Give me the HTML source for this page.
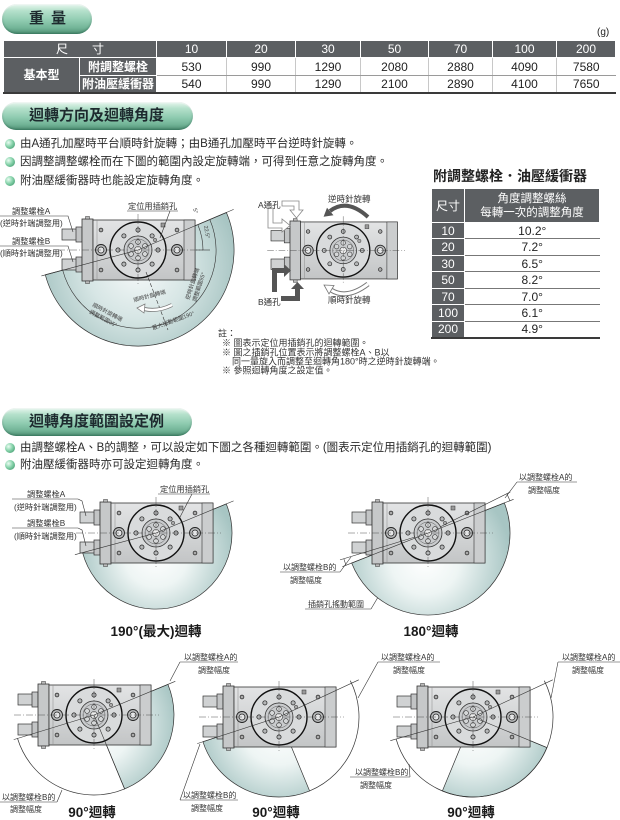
<!DOCTYPE html>
<html><head><meta charset="utf-8">
<style>
body{margin:0;width:620px;height:820px;position:relative;overflow:hidden;background:#fff;font-family:"Liberation Sans","Noto Sans CJK TC",sans-serif;color:#222;}
.pill{position:absolute;border-radius:15px;background:linear-gradient(180deg,#e8f7ef 0%,#b6e1cc 22%,#8fcbb0 55%,#72b497 80%,#4f9074 100%);box-shadow:inset 0 -1px 2px rgba(0,60,40,.35),inset 0 1px 1px rgba(255,255,255,.8);}
.pill span{position:absolute;font-weight:bold;font-size:15px;color:#1d2a2e;white-space:nowrap;line-height:18px;}
.bl{position:absolute;left:20px;font-size:11.5px;line-height:14px;white-space:nowrap;color:#2a2a2a;}
.dot{position:absolute;left:5px;width:10px;height:10px;border-radius:50%;background:radial-gradient(circle at 35% 35%,#eafcf2 0%,#86d2aa 45%,#2f8a5e 100%);}
table{position:absolute;border-collapse:collapse;table-layout:fixed;font-size:12px;}
table th{background:#5c5f62;color:#fff;font-weight:normal;border:1px solid #fff;padding:0;line-height:1;text-align:center;}
.wt td{border-left:1px solid #c8c8c8;border-bottom:1px solid #9a9a9a;text-align:center;padding:0;line-height:1;color:#222;}
.wt{border-bottom:2px solid #3a3a3a;}
.at td{border-bottom:1px solid #777;text-align:center;padding:0;line-height:1;color:#222;}
.at{border-bottom:2px solid #3a3a3a;}
</style></head><body>

<div class="pill" style="left:2px;top:4px;width:90px;height:30px;"><span style="left:27px;top:6px;letter-spacing:7px;">重量</span></div>
<div style="position:absolute;left:597px;top:27px;font-size:10px;">(g)</div>

<table class="wt" style="left:3px;top:40px;width:612px;">
<colgroup><col style="width:76px"><col style="width:77px"><col style="width:70px"><col style="width:69px"><col style="width:65px"><col style="width:68px"><col style="width:64px"><col style="width:64px"><col style="width:59px"></colgroup>
<tr style="height:17px"><th colspan="2">尺&emsp;&emsp;寸</th><th>10</th><th>20</th><th>30</th><th>50</th><th>70</th><th>100</th><th>200</th></tr>
<tr style="height:18px"><th rowspan="2" style="font-weight:bold">基本型</th><th style="font-weight:bold">附調整螺栓</th><td>530</td><td>990</td><td>1290</td><td>2080</td><td>2880</td><td>4090</td><td>7580</td></tr>
<tr style="height:17px"><th style="font-weight:bold">附油壓緩衝器</th><td>540</td><td>990</td><td>1290</td><td>2100</td><td>2890</td><td>4100</td><td>7650</td></tr>
</table>

<div class="pill" style="left:2px;top:102px;width:191px;height:28px;"><span style="left:27px;top:5px;">迴轉方向及迴轉角度</span></div>
<div class="dot" style="top:139px"></div><div class="bl" style="top:137px">由A通孔加壓時平台順時針旋轉；由B通孔加壓時平台逆時針旋轉。</div>
<div class="dot" style="top:157px"></div><div class="bl" style="top:155px">因調整調整螺栓而在下圖的範圍內設定旋轉端，可得到任意之旋轉角度。</div>
<div class="dot" style="top:176px"></div><div class="bl" style="top:174px">附油壓緩衝器時也能設定旋轉角度。</div>

<div style="position:absolute;left:433px;top:168px;font-size:14px;font-weight:bold;line-height:17px;white-space:nowrap;color:#222;">附調整螺栓．油壓緩衝器</div>
<table class="at" style="left:431px;top:188px;width:168px;">
<colgroup><col style="width:33px"><col style="width:135px"></colgroup>
<tr style="height:34px"><th>尺寸</th><th style="font-size:11.5px;line-height:14px">角度調整螺絲<br>每轉一次的調整角度</th></tr>
<tr style="height:16px"><th>10</th><td>10.2°</td></tr>
<tr style="height:17px"><th>20</th><td>7.2°</td></tr>
<tr style="height:16px"><th>30</th><td>6.5°</td></tr>
<tr style="height:17px"><th>50</th><td>8.2°</td></tr>
<tr style="height:16px"><th>70</th><td>7.0°</td></tr>
<tr style="height:17px"><th>100</th><td>6.1°</td></tr>
<tr style="height:16px"><th>200</th><td>4.9°</td></tr>
</table>

<div class="pill" style="left:2px;top:408px;width:190px;height:28px;"><span style="left:27px;top:5px;">迴轉角度範圍設定例</span></div>
<div class="dot" style="top:443px"></div><div class="bl" style="top:441px">由調整螺栓A、B的調整，可以設定如下圖之各種迴轉範圍。(圖表示定位用插銷孔的迴轉範圍)</div>
<div class="dot" style="top:460px"></div><div class="bl" style="top:458px">附油壓緩衝器時亦可設定迴轉角度。</div>

<svg width="620" height="820" viewBox="0 0 620 820" style="position:absolute;left:0;top:0;" font-family="Liberation Sans, Noto Sans CJK TC, sans-serif">
<defs>
<linearGradient id="bodyg" x1="0" y1="0" x2="0" y2="1"><stop offset="0" stop-color="#e3e4e5"/><stop offset=".5" stop-color="#d3d5d6"/><stop offset="1" stop-color="#c3c5c6"/></linearGradient>
<radialGradient id="g1" gradientUnits="userSpaceOnUse" cx="138" cy="268" r="100"><stop offset="0" stop-color="#f6f9f9"/><stop offset=".5" stop-color="#d7e6e5"/><stop offset="1" stop-color="#a8c5c3"/></radialGradient>
<radialGradient id="g3" gradientUnits="userSpaceOnUse" cx="156" cy="555" r="80"><stop offset="0" stop-color="#fff"/><stop offset=".4" stop-color="#eef5f4"/><stop offset="1" stop-color="#a7c5c3"/></radialGradient>
<radialGradient id="g4" gradientUnits="userSpaceOnUse" cx="425" cy="560" r="86"><stop offset="0" stop-color="#fff"/><stop offset=".4" stop-color="#eef5f4"/><stop offset="1" stop-color="#a7c5c3"/></radialGradient>
<radialGradient id="g5" gradientUnits="userSpaceOnUse" cx="94" cy="725" r="84"><stop offset="0" stop-color="#fff"/><stop offset=".45" stop-color="#eef5f4"/><stop offset="1" stop-color="#a7c5c3"/></radialGradient>
<radialGradient id="g6" gradientUnits="userSpaceOnUse" cx="279" cy="727" r="84"><stop offset="0" stop-color="#fff"/><stop offset=".45" stop-color="#eef5f4"/><stop offset="1" stop-color="#a7c5c3"/></radialGradient>
<radialGradient id="g7" gradientUnits="userSpaceOnUse" cx="473" cy="727" r="84"><stop offset="0" stop-color="#fff"/><stop offset=".45" stop-color="#eef5f4"/><stop offset="1" stop-color="#a7c5c3"/></radialGradient>
<g id="act">
<rect x="-20" y="10" width="15" height="11" fill="#d0d2d3" stroke="#333" stroke-width=".7"/>
<rect x="-6" y="8" width="6" height="15" fill="#c2c4c5" stroke="#333" stroke-width=".7"/>
<rect x="-20" y="40" width="15" height="11" fill="#d0d2d3" stroke="#333" stroke-width=".7"/>
<rect x="-6" y="38" width="6" height="15" fill="#c2c4c5" stroke="#333" stroke-width=".7"/>
<rect x="0" y="0" width="11" height="62" fill="#c6c8c9" stroke="#333" stroke-width=".8"/>
<rect x="3.5" y="-2.5" width="4" height="2.5" fill="#bbb" stroke="#333" stroke-width=".5"/>
<rect x="3.5" y="62" width="4" height="2.5" fill="#bbb" stroke="#333" stroke-width=".5"/>
<rect x="11" y="1" width="102" height="60" fill="url(#bodyg)" stroke="#333" stroke-width=".8"/>
<line x1="15" y1="1" x2="15" y2="61" stroke="#888" stroke-width=".5"/>
<rect x="102" y="1" width="11" height="60" fill="#cbcdce" stroke="#333" stroke-width=".6"/>
<circle cx="19" cy="31" r="5.5" fill="#b9bbbc" stroke="#222" stroke-width=".9"/>
<circle cx="19" cy="31" r="3" fill="#e5e6e7" stroke="#222" stroke-width=".7"/>
<circle cx="95" cy="31" r="5.5" fill="#b9bbbc" stroke="#222" stroke-width=".9"/>
<circle cx="95" cy="31" r="3" fill="#e5e6e7" stroke="#222" stroke-width=".7"/>
<circle cx="19" cy="11" r="1.9" fill="#aaa" stroke="#222" stroke-width=".7"/>
<circle cx="19" cy="51" r="1.9" fill="#aaa" stroke="#222" stroke-width=".7"/>
<circle cx="95" cy="11" r="1.9" fill="#aaa" stroke="#222" stroke-width=".7"/>
<circle cx="95" cy="51" r="1.9" fill="#aaa" stroke="#222" stroke-width=".7"/>
<rect x="79" y="4" width="4" height="4" fill="#999" stroke="#333" stroke-width=".5"/>
<circle cx="56" cy="31" r="28" fill="#d9dbdc" stroke="#111" stroke-width="1.4"/>
<g fill="#b5b7b8" stroke="#222" stroke-width=".7">
<circle cx="76" cy="31" r="2.1"/><circle cx="70.1" cy="45.1" r="2.1"/><circle cx="56" cy="51" r="2.1"/><circle cx="41.9" cy="45.1" r="2.1"/>
<circle cx="36" cy="31" r="2.1"/><circle cx="41.9" cy="16.9" r="2.1"/><circle cx="56" cy="11" r="2.1"/><circle cx="70.1" cy="16.9" r="2.1"/>
</g>
<circle cx="56" cy="31" r="14" fill="#c9cbcd" stroke="#333" stroke-width=".8"/>
<circle cx="56" cy="31" r="11" fill="none" stroke="#555" stroke-width=".5"/>
<g fill="#d5d7d8" stroke="#333" stroke-width=".6">
<circle cx="62.9" cy="35" r="2.4"/><circle cx="56" cy="39" r="2.4"/><circle cx="49.1" cy="35" r="2.4"/><circle cx="49.1" cy="27" r="2.4"/><circle cx="56" cy="23" r="2.4"/><circle cx="62.9" cy="27" r="2.4"/>
</g>
<circle cx="56" cy="31" r="3.5" fill="#eee" stroke="#333" stroke-width=".6"/>
<circle cx="73" cy="21" r="1.8" fill="#aaa" stroke="#333" stroke-width=".5"/>
<line x1="-24" y1="31" x2="121" y2="31" stroke="#444" stroke-width=".45" stroke-dasharray="7 2 1 2"/>
<line x1="56" y1="-5" x2="56" y2="67" stroke="#444" stroke-width=".45" stroke-dasharray="7 2 1 2"/>
</g>
</defs>

<!-- ===== D1 ===== -->
<path d="M138,250 L226.4,212.5 A96,96 0 1 1 45.3,274.8 Z" fill="url(#g1)" stroke="#333" stroke-width=".7"/>
<path d="M209.8,219.5 A78,78 0 1 1 62.7,270.2" fill="none" stroke="#333" stroke-width=".6"/>
<use href="#act" x="82" y="219"/>
<g stroke="#333" stroke-width=".6" fill="none">
<line x1="138" y1="250" x2="233.7" y2="209.4"/>
<line x1="138" y1="250" x2="41.4" y2="275.9"/>
<line x1="196" y1="250" x2="210" y2="250"/>
<path d="M203,250 A65,65 0 0 0 198,225.1"/>
<line x1="146" y1="272" x2="168" y2="330" stroke-dasharray="4 2"/>
<polyline points="62,216 68,216 73,232"/>
<polyline points="62,246 68,246 73,262"/>
<line x1="0" y1="216" x2="62" y2="216"/>
<line x1="0" y1="246" x2="62" y2="246"/>
<line x1="127" y1="211" x2="178" y2="211"/>
<line x1="170" y1="211" x2="160" y2="238"/>
</g>
<g font-size="8.2" fill="#333">
<text x="12" y="214">調整螺栓A</text>
<text x="0" y="226">(逆時針端調整用)</text>
<text x="12" y="244">調整螺栓B</text>
<text x="0" y="256">(順時針端調整用)</text>
<text x="128" y="209">定位用插銷孔</text>
</g>
<g font-size="5.5" fill="#444">
<text transform="translate(204,226) rotate(80)">22.5°</text>
<text transform="translate(193,209) rotate(70)">5°</text>
<text transform="translate(134,302) rotate(-15)">順時針旋轉端</text>
<text transform="translate(92,306) rotate(28)">順時針旋轉端</text>
<text transform="translate(89,313) rotate(28)">調整範圍95°</text>
<text transform="translate(189,300) rotate(-72)">逆時針旋轉端</text>
<text transform="translate(196,302) rotate(-72)">調整範圍95°</text>
<text transform="translate(153,330) rotate(-20)">最大搖動範圍190°</text>
</g>
<path d="M172,305 Q158,312 144,309" fill="none" stroke="#777" stroke-width="4"/>
<path d="M172,305 Q158,312 144,309" fill="none" stroke="#fff" stroke-width="2.4"/>
<polygon points="137,308 145,304 144,313" fill="#fff" stroke="#777" stroke-width=".7"/>

<!-- ===== D2 ===== -->
<g transform="translate(290,221) scale(0.95)"><use href="#act"/></g>
<polygon points="268,208 273,208 273,223 282,223 282,219 290,225.5 282,232 282,228 268,228" fill="#fff" stroke="#888" stroke-width=".8"/>
<polygon points="282,201 299,201 299,210 303,210 296.5,218 290,210 294,210 294,206 282,206" fill="#fff" stroke="#888" stroke-width=".8"/>
<polygon points="272,292 272,268 284,268 284,264 291,270.5 284,277 284,273 277,273 277,292" fill="#555"/>
<polygon points="281,296 295,296 295,289 291,289 297.5,282 304,289 300,289 300,301 281,301" fill="#555"/>
<path d="M368,217 Q347,198 330,211" fill="none" stroke="#555" stroke-width="4"/>
<polygon points="323.6,216.8 333.5,215.2 327,207.8" fill="#555"/>
<path d="M368,284 Q347,300 331,290" fill="none" stroke="#777" stroke-width="5"/>
<path d="M368,284 Q347,300 331,290" fill="none" stroke="#fff" stroke-width="3"/>
<polygon points="324,285 334,285.5 329,294" fill="#fff" stroke="#777" stroke-width=".8"/>
<g font-size="8.5" fill="#333">
<text x="258" y="208">A通孔</text>
<text x="258" y="305">B通孔</text>
<text x="328" y="202">逆時針旋轉</text>
<text x="328" y="303">順時針旋轉</text>
</g>

<!-- notes -->
<g font-size="9" fill="#333">
<text x="218" y="336.5">註：</text>
<text x="222" y="346">※ 圖表示定位用插銷孔的迴轉範圍。</text>
<text x="222" y="355.5">※ 圖之插銷孔位置表示將調整螺栓A、B以</text>
<text x="232" y="364.5">同一量旋入而調整至迴轉角180°時之逆時針旋轉端。</text>
<text x="222" y="373.5">※ 參照迴轉角度之設定值。</text>
</g>

<!-- ===== D3 190 ===== -->
<path d="M156,533 L226.2,503.9 A76,76 0 1 1 82.6,552.7 Z" fill="url(#g3)" stroke="#333" stroke-width=".7"/>
<use href="#act" x="100" y="502"/>
<g stroke="#333" stroke-width=".6" fill="none">
<line x1="156" y1="533" x2="233.6" y2="500.9"/>
<line x1="156" y1="533" x2="74.9" y2="554.7"/>
<line x1="12" y1="499" x2="78" y2="499"/>
<polyline points="78,499 82,501 86,516"/>
<line x1="12" y1="528" x2="78" y2="528"/>
<polyline points="78,528 82,530 86,546"/>
<line x1="158" y1="494" x2="210" y2="494"/>
<line x1="192" y1="494" x2="179" y2="519"/>
</g>
<g font-size="8.2" fill="#333">
<text x="27" y="497">調整螺栓A</text>
<text x="14" y="510">(逆時針端調整用)</text>
<text x="27" y="526">調整螺栓B</text>
<text x="14" y="539">(順時針端調整用)</text>
<text x="160" y="492">定位用插銷孔</text>
</g>
<text x="156" y="636" font-size="13.5" font-weight="bold" text-anchor="middle" fill="#1a1a1a">190°(最大)迴轉</text>

<!-- ===== D4 180 ===== -->
<path d="M428,533 L504.3,502.9 A82,82 0 1 1 351.7,563.1 Z" fill="url(#g4)" stroke="#333" stroke-width=".7"/>
<use href="#act" x="372" y="502"/>
<g stroke="#333" stroke-width=".6" fill="none">
<line x1="428" y1="533" x2="513.6" y2="499.3"/>
<line x1="428" y1="533" x2="342.4" y2="566.7"/>
<line x1="440" y1="527" x2="510.3" y2="492"/>
<line x1="415" y1="537" x2="340" y2="559.9"/>
<path d="M506.8,493.7 A88,88 0 0 1 509.9,500.7"/>
<path d="M346.1,565.3 A88,88 0 0 1 343.8,558.7"/>
<line x1="517" y1="482" x2="577" y2="482"/>
<line x1="517" y1="482" x2="505" y2="498"/>
<line x1="280" y1="572" x2="340" y2="572"/>
<line x1="340" y1="572" x2="351" y2="557"/>
<line x1="305" y1="609" x2="371" y2="609"/>
<line x1="371" y1="609" x2="377.5" y2="598"/>
</g>
<g font-size="8" fill="#333">
<text x="519" y="480">以調整螺栓A的</text>
<text x="528" y="493">調整幅度</text>
<text x="283" y="570">以調整螺栓B的</text>
<text x="290" y="583">調整幅度</text>
<text x="308" y="607">插銷孔搖動範圍</text>
</g>
<text x="431" y="636" font-size="13.5" font-weight="bold" text-anchor="middle" fill="#1a1a1a">180°迴轉</text>

<!-- ===== D5 90 ===== -->
<path d="M94,715 L167.9,684.4 A80,80 0 0 1 124.6,788.9 Z" fill="url(#g5)" stroke="#333" stroke-width=".7"/>
<path d="M124.6,788.9 A80,80 0 0 1 17.5,738.4" fill="none" stroke="#333" stroke-width=".7"/>
<use href="#act" x="38" y="684"/>
<g stroke="#333" stroke-width=".6" fill="none">
<line x1="94" y1="715" x2="175.3" y2="681.3"/>
<line x1="94" y1="715" x2="13.7" y2="739.6"/>
<line x1="94" y1="715" x2="124.6" y2="788.9"/>
<line x1="180" y1="662" x2="238" y2="662"/>
<line x1="180" y1="662" x2="170" y2="681"/>
<line x1="0" y1="802" x2="57" y2="802"/>
<line x1="57" y1="802" x2="62" y2="790"/>
</g>
<g font-size="8" fill="#333">
<text x="184" y="660">以調整螺栓A的</text>
<text x="198" y="673">調整幅度</text>
<text x="2" y="800">以調整螺栓B的</text>
<text x="10" y="812">調整幅度</text>
</g>
<text x="92" y="817" font-size="13.5" font-weight="bold" text-anchor="middle" fill="#1a1a1a">90°迴轉</text>

<!-- ===== D6 90 ===== -->
<path d="M279,717 L309.6,790.9 A80,80 0 0 1 202.9,741.7 Z" fill="url(#g6)" stroke="#333" stroke-width=".7"/>
<path d="M350.3,680.7 A80,80 0 0 1 309.6,790.9" fill="none" stroke="#333" stroke-width=".7"/>
<use href="#act" x="223" y="686"/>
<g stroke="#333" stroke-width=".6" fill="none">
<line x1="279" y1="717" x2="358.8" y2="679.8"/>
<line x1="279" y1="717" x2="197.2" y2="743.6"/>
<line x1="378" y1="662" x2="440" y2="662"/>
<line x1="378" y1="662" x2="358" y2="698"/>
<line x1="180" y1="800" x2="238" y2="800"/>
<line x1="180" y1="800" x2="200" y2="744"/>
</g>
<g font-size="8" fill="#333">
<text x="381" y="660">以調整螺栓A的</text>
<text x="393" y="673">調整幅度</text>
<text x="183" y="798">以調整螺栓B的</text>
<text x="191" y="811">調整幅度</text>
</g>
<text x="276" y="817" font-size="13.5" font-weight="bold" text-anchor="middle" fill="#1a1a1a">90°迴轉</text>

<!-- ===== D7 90 ===== -->
<path d="M473,717 L546.9,747.6 A80,80 0 0 1 442.4,790.9 Z" fill="url(#g7)" stroke="#333" stroke-width=".7"/>
<path d="M544.3,680.7 A80,80 0 1 1 396.1,739" fill="none" stroke="#333" stroke-width=".7"/>
<use href="#act" x="417" y="686"/>
<g stroke="#333" stroke-width=".6" fill="none">
<line x1="473" y1="717" x2="552.8" y2="679.8"/>
<line x1="473" y1="717" x2="390.3" y2="740.7"/>
<line x1="473" y1="717" x2="546.9" y2="747.6"/>
<line x1="558" y1="662" x2="620" y2="662"/>
<line x1="558" y1="662" x2="551" y2="698"/>
<line x1="350" y1="777" x2="410" y2="777"/>
<line x1="410" y1="777" x2="409" y2="764"/>
</g>
<g font-size="8" fill="#333">
<text x="562" y="660">以調整螺栓A的</text>
<text x="572" y="673">調整幅度</text>
<text x="355" y="775">以調整螺栓B的</text>
<text x="360" y="788">調整幅度</text>
</g>
<text x="471" y="817" font-size="13.5" font-weight="bold" text-anchor="middle" fill="#1a1a1a">90°迴轉</text>
</svg>
</body></html>
